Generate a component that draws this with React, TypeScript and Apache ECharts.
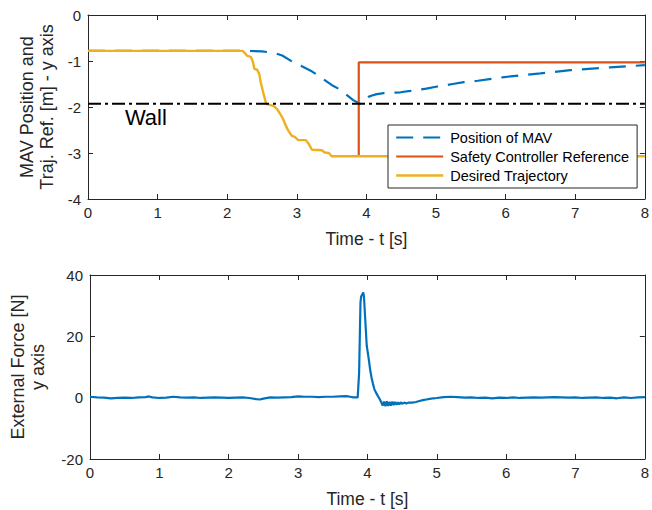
import React, { useEffect, useRef } from "react";
import * as echarts from "echarts";

const FONT = "'Liberation Sans', Arial, Helvetica, sans-serif";
const AX = "#262626";

// Top plot: MAV position (y) and trajectory references
const mavT = [0, 2.25, 2.5, 2.69, 2.79, 2.93, 3.08, 3.22, 3.36, 3.5, 3.62, 3.72, 3.81, 3.91, 3.97, 4.03, 4.08, 4.15, 4.25, 4.49, 4.63, 4.86, 5.0, 5.24, 5.4, 5.6, 5.98, 6.5, 6.93, 7.5, 8.0];
const mavY = [-0.78, -0.78, -0.79, -0.83, -0.88, -1.01, -1.12, -1.23, -1.37, -1.52, -1.62, -1.74, -1.85, -1.93, -1.85, -1.78, -1.75, -1.72, -1.7, -1.68, -1.65, -1.6, -1.56, -1.5, -1.46, -1.43, -1.35, -1.27, -1.2, -1.14, -1.09];

const safetyT = [3.89, 3.89, 8.0];
const safetyY = [-3.07, -1.03, -1.03];

const desiredT = [0, 2.22, 2.26, 2.29, 2.34, 2.37, 2.39, 2.43, 2.46, 2.48, 2.52, 2.56, 2.6, 2.67, 2.72, 2.76, 2.8, 2.84, 2.88, 2.93, 2.97, 3.02, 3.13, 3.17, 3.22, 3.36, 3.4, 3.46, 3.5, 8.0];
const desiredY = [-0.78, -0.78, -0.84, -0.89, -0.91, -1.02, -1.17, -1.19, -1.28, -1.45, -1.7, -1.93, -1.95, -1.98, -2.05, -2.15, -2.25, -2.4, -2.52, -2.63, -2.65, -2.72, -2.72, -2.8, -2.93, -2.94, -2.99, -3.0, -3.07, -3.07];

const wallT = [0, 8];
const wallY = [-1.93, -1.93];
const wallLabelAt = [0.53, -2.22];

// Bottom plot: external force (y axis)
const forceT = [0, 0.1, 0.2, 0.3, 0.4, 0.5, 0.6, 0.7, 0.8, 0.85, 0.9, 1.0, 1.1, 1.2, 1.3, 1.4, 1.5, 1.6, 1.7, 1.8, 1.9, 2.0, 2.1, 2.2, 2.3, 2.4, 2.45, 2.5, 2.6, 2.7, 2.8, 2.9, 3.0, 3.1, 3.2, 3.3, 3.4, 3.5, 3.6, 3.7, 3.75, 3.8, 3.86, 3.88, 3.9, 3.91, 3.94, 3.95, 3.97, 3.99, 4.0, 4.02, 4.04, 4.06, 4.08, 4.1, 4.12, 4.14, 4.16, 4.18, 4.2, 4.22, 4.24, 4.26, 4.28, 4.3, 4.32, 4.34, 4.36, 4.38, 4.4, 4.42, 4.44, 4.46, 4.48, 4.5, 4.53, 4.56, 4.6, 4.65, 4.7, 4.75, 4.8, 4.85, 4.9, 4.95, 5.0, 5.1, 5.2, 5.3, 5.4, 5.5, 5.6, 5.7, 5.8, 5.9, 6.0, 6.1, 6.2, 6.3, 6.4, 6.5, 6.6, 6.7, 6.8, 6.9, 7.0, 7.1, 7.2, 7.3, 7.4, 7.5, 7.6, 7.7, 7.8, 7.9, 8.0];
const forceY = [0.3, 0.1, 0.0, -0.2, -0.1, 0.0, -0.1, 0.1, 0.2, 0.4, 0.1, -0.1, 0.0, 0.3, 0.1, 0.0, 0.1, -0.1, 0.0, 0.1, 0.0, -0.1, 0.0, 0.1, -0.1, -0.5, -0.6, -0.3, 0.1, 0.0, 0.1, 0.2, 0.4, 0.3, 0.3, 0.2, 0.3, 0.3, 0.4, 0.5, 0.3, 0.1, 0.1, 8, 31, 33, 34.3, 33, 25, 17, 15.5, 12.5, 9, 6.5, 4.5, 2.8, 1.8, 1.0, 0.2, -0.6, -1.5, -2.6, -1.3, -2.8, -1.2, -2.7, -1.4, -2.6, -1.3, -2.4, -1.4, -2.3, -1.5, -2.2, -1.5, -2.0, -1.6, -1.9, -1.6, -1.6, -1.4, -1.1, -0.8, -0.6, -0.4, -0.2, -0.1, 0.2, 0.3, 0.2, 0.0, 0.1, -0.1, 0.0, -0.2, 0.0, -0.1, 0.1, -0.1, 0.0, 0.1, 0.0, 0.1, 0.2, 0.1, 0.0, 0.1, -0.1, 0.0, 0.1, -0.1, 0.0, -0.2, 0.1, -0.1, 0.1, 0.2];

const timeTicks = { min: 0, max: 8, interval: 1 };
const topYTicks = { min: -4, max: 0, interval: 1 };
const botYTicks = { min: -20, max: 40, interval: 20 };

const MAV_DASH = [17, 10];

const zip = (a: number[], b: number[]) => a.map((v, i) => [v, b[i]]);

const axisLine = { show: true, onZero: false, lineStyle: { color: AX, width: 1 } };
const axisTick = { show: true, inside: true, length: 5, lineStyle: { color: AX, width: 1 } };
const labelStyle = { fontSize: 15, color: AX, fontFamily: FONT };
const xNameStyle = { fontSize: 17.5, color: AX, fontFamily: FONT };
const yNameStyle = { fontSize: 18, color: AX, fontFamily: FONT, lineHeight: 20 };

function xAxes(gridIndex: number) {
  const base = { type: "value", gridIndex, ...timeTicks, axisLine, axisTick, splitLine: { show: false } };
  return [
    {
      ...base,
      position: "bottom",
      name: "Time - t [s]",
      nameLocation: "middle",
      nameGap: 31,
      nameTextStyle: xNameStyle,
      axisLabel: { ...labelStyle, margin: 6 },
    },
    { ...base, position: "top", axisLabel: { show: false } },
  ];
}

function yAxes(gridIndex: number, ticks: any, name: string, gap: number) {
  const base = { type: "value", gridIndex, ...ticks, axisLine, axisTick, splitLine: { show: false } };
  return [
    {
      ...base,
      position: "left",
      name,
      nameLocation: "middle",
      nameGap: gap,
      nameRotate: 90,
      nameTextStyle: yNameStyle,
      axisLabel: { ...labelStyle, margin: 7 },
    },
    { ...base, position: "right", axisLabel: { show: false } },
  ];
}

const option: any = {
  animation: false,
  backgroundColor: "#fff",
  textStyle: { fontFamily: FONT },
  grid: [
    { left: 88, top: 15, width: 560, height: 184, containLabel: false },
    { left: 88, top: 275, width: 560, height: 184, containLabel: false },
  ],
  xAxis: [...xAxes(0), ...xAxes(1)],
  yAxis: [
    ...yAxes(0, topYTicks, "MAV Position and\nTraj. Ref. [m] - y axis", 27),
    ...yAxes(1, botYTicks, "External Force [N]\ny axis", 42),
  ],
  legend: {
    orient: "vertical",
    left: 388,
    top: 125,
    itemWidth: 47,
    itemHeight: 14,
    itemGap: 4,
    padding: [5, 8, 5, 7],
    borderColor: AX,
    borderWidth: 1,
    borderRadius: 0,
    backgroundColor: "#fff",
    itemStyle: { opacity: 0, borderWidth: 0 },
    textStyle: { fontSize: 14.5, color: "#000", fontFamily: FONT, padding: [0, 0, 0, 2] },
    data: [
      { name: "Position of MAV", lineStyle: { type: MAV_DASH, width: 2.2, color: "#0072BD" } },
      { name: "Safety Controller Reference", lineStyle: { width: 2.2, color: "#D95319" } },
      { name: "Desired Trajectory", lineStyle: { width: 2.4, color: "#EDB120" } },
    ],
  },
  series: [
    {
      name: "Position of MAV",
      type: "line",
      xAxisIndex: 0,
      yAxisIndex: 0,
      data: zip(mavT, mavY),
      symbol: "none",
      lineStyle: { color: "#0072BD", width: 2.2, type: MAV_DASH },
      itemStyle: { color: "#0072BD" },
    },
    {
      name: "Safety Controller Reference",
      type: "line",
      xAxisIndex: 0,
      yAxisIndex: 0,
      data: zip(safetyT, safetyY),
      symbol: "none",
      lineStyle: { color: "#D95319", width: 2.2 },
      itemStyle: { color: "#D95319" },
    },
    {
      name: "Desired Trajectory",
      type: "line",
      xAxisIndex: 0,
      yAxisIndex: 0,
      data: zip(desiredT, desiredY),
      symbol: "none",
      lineStyle: { color: "#EDB120", width: 2.4 },
      itemStyle: { color: "#EDB120" },
    },
    {
      name: "Wall",
      type: "line",
      xAxisIndex: 0,
      yAxisIndex: 0,
      data: zip(wallT, wallY),
      symbol: "none",
      lineStyle: { color: "#000", width: 2, type: [13, 4, 3, 4] },
      itemStyle: { color: "#000" },
      markPoint: {
        symbol: "circle",
        symbolSize: 0,
        silent: true,
        data: [{ coord: wallLabelAt, value: "Wall" }],
        label: {
          show: true,
          position: "right",
          distance: 0,
          formatter: "Wall",
          fontSize: 22,
          color: "#000",
          fontFamily: FONT,
        },
      },
    },
    {
      name: "External Force",
      type: "line",
      xAxisIndex: 2,
      yAxisIndex: 2,
      data: zip(forceT, forceY),
      symbol: "none",
      lineStyle: { color: "#0072BD", width: 2.2 },
      itemStyle: { color: "#0072BD" },
    },
  ],
};

export default function App() {
  const ref = useRef<HTMLDivElement>(null);
  useEffect(() => {
    document.body.style.margin = "0";
    const chart = echarts.init(ref.current as HTMLDivElement, null, { renderer: "svg" });
    chart.setOption(option);
    return () => chart.dispose();
  }, []);
  return <div ref={ref} style={{ width: 652, height: 510 }} />;
}
